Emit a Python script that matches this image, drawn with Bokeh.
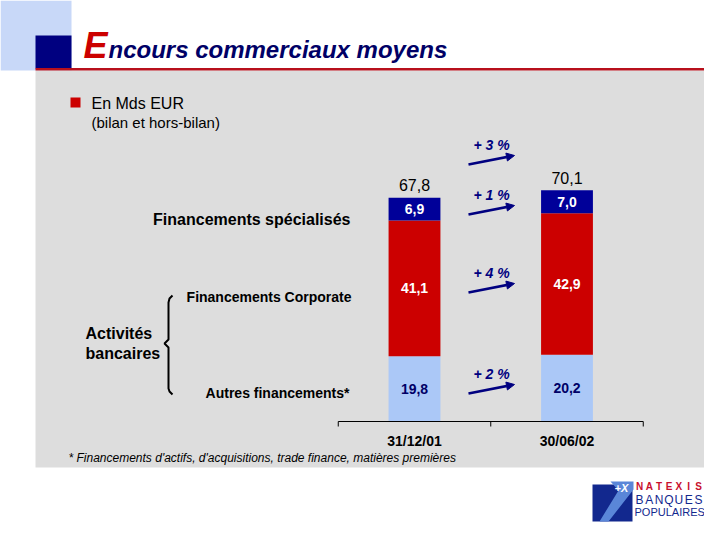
import numpy as np
from bokeh.plotting import figure
from bokeh.models import Range1d, Arrow, NormalHead
from bokeh.core.properties import value
from bokeh.embed import file_html
from bokeh.resources import INLINE

# ---------------- data ----------------
dates = ["31/12/01", "30/06/02"]
autres = [19.8, 20.2]            # Autres financements*
corporate = [41.1, 42.9]         # Financements Corporate
specialises = [6.9, 7.0]         # Financements spécialisés
totals = [67.8, 70.1]
growth = ["+ 3 %", "+ 1 %", "+ 4 %", "+ 2 %"]
series_names = ["Financements spécialisés", "Financements Corporate", "Autres financements*"]
title_first = "E"
title_rest = "ncours commerciaux moyens"
unit_text = "En Mds EUR"
unit_sub = "(bilan et hors-bilan)"
group_text = ["Activités", "bancaires"]
footnote = "* Financements d'actifs, d'acquisitions, trade finance, matières premières"


def fmt(v):
    return f"{v:.1f}".replace(".", ",")


FONT = value("Liberation Sans")
NAVY = "#000099"
RED = "#cc0000"
LBLUE = "#abc8f7"
DARKNAVY = "#000066"

W, H = 704, 524
PXX = 152.5      # pixels per category step
X0 = 414         # pixel of first category
PXY = 3.3        # pixels per Md EUR
Y0 = H - 421     # pixel height of the baseline above the bottom

p = figure(width=W, height=H,
           x_range=Range1d(-X0 / PXX, (W - X0) / PXX),
           y_range=Range1d(-Y0 / PXY, (H - Y0) / PXY),
           output_backend="svg", toolbar_location=None,
           x_axis_location=None, y_axis_location=None,
           min_border=0, outline_line_color=None,
           background_fill_color="white", border_fill_color="white")
p.grid.visible = False
p.extra_x_ranges = {"px": Range1d(0, W)}
p.extra_y_ranges = {"px": Range1d(H, 0)}
PX = dict(x_range_name="px", y_range_name="px")

# ---------------- page decoration ----------------
p.quad(left=[0], right=[71], top=[0], bottom=[70], fill_color="#c8d8f8", line_color=None, **PX)
p.quad(left=[35], right=[720], top=[70], bottom=[467], fill_color="#dddddd", line_color=None, **PX)
p.quad(left=[35], right=[71], top=[35], bottom=[68], fill_color="#000080", line_color=None, **PX)
p.quad(left=[35], right=[720], top=[67.5], bottom=[70], fill_color="#b8101c", line_color=None, **PX)

p.text(x=[83], y=[45], text=[title_first], text_font=FONT, text_font_size="36px",
       text_font_style="bold italic", text_color=RED, text_baseline="middle", **PX)
p.text(x=[108], y=[49], text=[title_rest], text_font=FONT, text_font_size="24px",
       text_font_style="bold italic", text_color=DARKNAVY, text_baseline="middle", **PX)

p.quad(left=[70], right=[80], top=[97], bottom=[107], fill_color=RED, line_color=None, **PX)
p.text(x=[91], y=[103], text=[unit_text], text_font=FONT, text_font_size="16px",
       text_color="black", text_baseline="middle", **PX)
p.text(x=[91], y=[122], text=[unit_sub], text_font=FONT, text_font_size="15px",
       text_color="black", text_baseline="middle", **PX)

# ---------------- bars ----------------
xs = np.arange(len(dates))
a = np.array(autres)
c = np.array(corporate)
s = np.array(specialises)
p.vbar(x=xs, bottom=0, top=a, width=0.34, fill_color=LBLUE, line_color=None)
p.vbar(x=xs, bottom=a, top=a + c, width=0.34, fill_color=RED, line_color=None)
p.vbar(x=xs, bottom=a + c, top=a + c + s, width=0.34, fill_color=NAVY, line_color=None)

p.text(x=xs, y=a / 2, text=[fmt(v) for v in autres], text_font=FONT, text_font_size="14px",
       text_font_style="bold", text_color=DARKNAVY, text_align="center", text_baseline="middle")
p.text(x=xs, y=a + c / 2, text=[fmt(v) for v in corporate], text_font=FONT, text_font_size="14px",
       text_font_style="bold", text_color="white", text_align="center", text_baseline="middle")
p.text(x=xs, y=a + c + s / 2, text=[fmt(v) for v in specialises], text_font=FONT, text_font_size="14px",
       text_font_style="bold", text_color="white", text_align="center", text_baseline="middle")
p.text(x=xs, y=np.array(totals) + 12.5 / PXY, text=[fmt(v) for v in totals], text_font=FONT,
       text_font_size="16px", text_color="black", text_align="center", text_baseline="middle")

# axis (category axis with ticks between categories)
edges = np.arange(len(dates) + 1) - 0.5
p.segment(x0=[edges[0]], x1=[edges[-1]], y0=[0], y1=[0], line_color="black", line_width=1)
p.segment(x0=edges, x1=edges, y0=[421] * len(edges), y1=[426] * len(edges),
          line_color="black", line_width=1, y_range_name="px")
p.text(x=xs, y=[440] * len(dates), text=dates, text_font=FONT, text_font_size="14px",
       text_font_style="bold", text_color="black", text_align="center", text_baseline="middle",
       y_range_name="px")

# growth arrows
label_y = [144, 194, 272, 373]
for g, ly in zip(growth, label_y):
    p.text(x=[491], y=[ly], text=[g], text_font=FONT, text_font_size="14px",
           text_font_style="bold italic", text_color="#000080", text_align="center",
           text_baseline="middle", **PX)
    p.add_layout(Arrow(x_start=468, y_start=ly + 20, x_end=514, y_end=ly + 11,
                       line_color="#000080", line_width=2.5,
                       end=NormalHead(size=8, fill_color="#000080", line_color="#000080"),
                       **PX))

# series labels at left
p.text(x=[350, 351, 349], y=[219, 296, 392], text=series_names, text_font=FONT,
       text_font_size=["16px", "14px", "14px"], text_font_style="bold", text_color="black",
       text_align="right", text_baseline="middle", **PX)
p.text(x=[85, 85], y=[333, 353], text=group_text, text_font=FONT, text_font_size="16px",
       text_font_style="bold", text_color="black", text_baseline="middle", **PX)
# brace
p.line(x=[172, 169, 168, 168, 164, 168, 168, 169, 172],
       y=[295, 298, 302, 339, 343, 347, 388, 391, 394],
       line_color="black", line_width=2, **PX)

p.text(x=[68], y=[457], text=[footnote], text_font=FONT, text_font_size="12px",
       text_font_style="italic", text_color="black", text_baseline="middle", **PX)

# ---------------- logo ----------------
LY = -10  # logo lifted so that it fits in the frame
p.quad(left=[592], right=[632], top=[494 + LY], bottom=[531 + LY], fill_color="#12288e",
       line_color=None, **PX)
p.patch(x=[610, 633, 633, 608, 599, 618], y=[v + LY for v in [491, 491, 499, 531, 531, 500]],
        fill_color="#5a86d8", line_color=None, **PX)
p.text(x=[621], y=[497 + LY], text=["+X"], text_font=FONT, text_font_size="11px",
       text_font_style="bold italic", text_color="white", text_align="center",
       text_baseline="middle", **PX)
p.text(x=list(np.linspace(639, 698, 7)), y=[496 + LY] * 7, text=list("NATEXIS"), text_font=FONT,
       text_font_size="10px", text_font_style="bold", text_color="#c8102e",
       text_align="center", text_baseline="middle", **PX)
p.text(x=list(np.linspace(639, 698, 7)), y=[509 + LY] * 7, text=list("BANQUES"), text_font=FONT,
       text_font_size="12px", text_color="#12288e",
       text_align="center", text_baseline="middle", **PX)
p.text(x=[634], y=[521 + LY], text=["POPULAIRES"], text_font=FONT, text_font_size="11px",
       text_color="#12288e", text_baseline="middle", **PX)

open("out.html", "w").write(file_html(p, INLINE))
